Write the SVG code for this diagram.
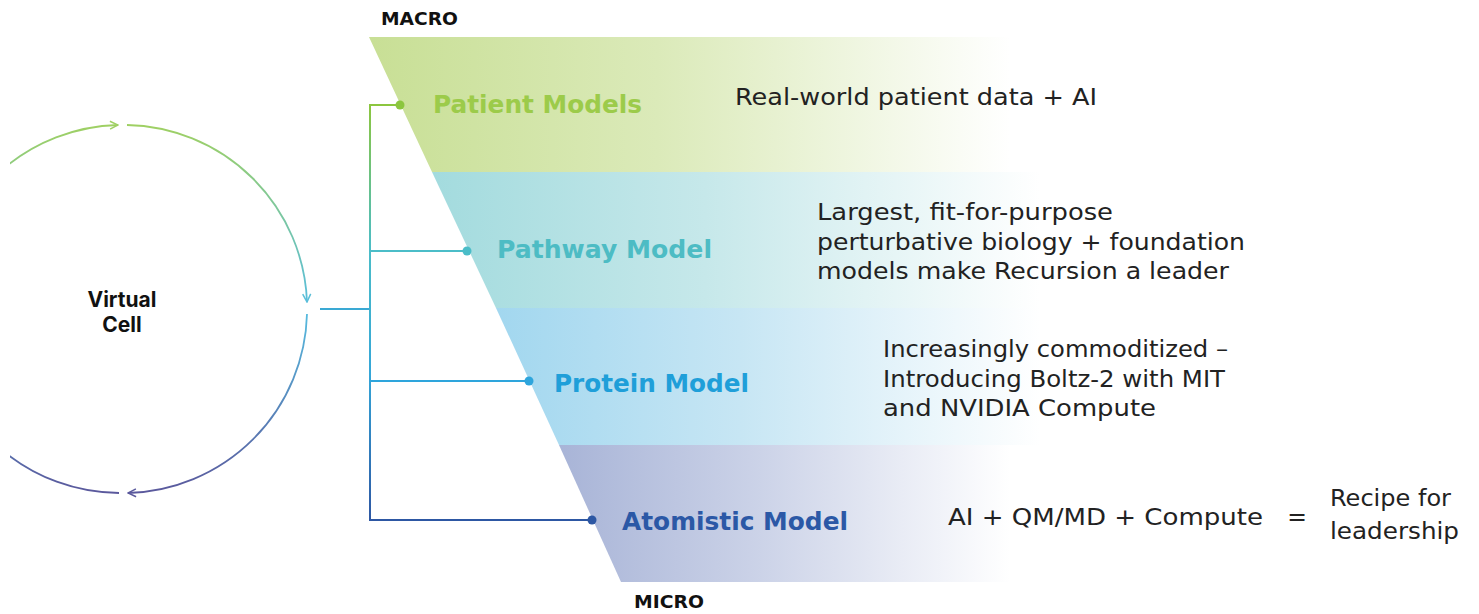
<svg xmlns="http://www.w3.org/2000/svg" width="1479" height="614" viewBox="0 0 1479 614">
<style>
.lbl{font-family:"DejaVu Sans","Verdana",sans-serif;font-weight:bold;font-size:24.5px}
.desc{font-family:"DejaVu Sans","Verdana",sans-serif;font-size:23.5px;fill:#222}
.scale{font-family:"DejaVu Sans","Verdana",sans-serif;font-weight:bold;font-size:17px;fill:#111}
.cell{font-family:"Inter","Liberation Sans",sans-serif;font-weight:700;font-size:21px;fill:#111}
.ring{fill:none;stroke:url(#ringGrad);stroke-width:1.8}
.conn{fill:none;stroke-width:2}
</style>
<defs>
<linearGradient id="ringGrad" gradientUnits="userSpaceOnUse" x1="0" y1="125" x2="0" y2="493">
<stop offset="0" stop-color="#9fd063"/>
<stop offset="0.5" stop-color="#56bde0"/>
<stop offset="1" stop-color="#5a589c"/>
</linearGradient>
<linearGradient id="busGrad" gradientUnits="userSpaceOnUse" x1="0" y1="105" x2="0" y2="520">
<stop offset="0" stop-color="#8cc63f"/>
<stop offset="0.35" stop-color="#4bbdc8"/>
<stop offset="0.65" stop-color="#35a6d8"/>
<stop offset="1" stop-color="#2d57a3"/>
</linearGradient>
<linearGradient id="gPatient" x1="0" y1="0" x2="1" y2="0">
<stop offset="0" stop-color="#c8df95"/>
<stop offset="0.45" stop-color="#dbeab9"/>
<stop offset="1" stop-color="#ffffff"/>
</linearGradient>
<linearGradient id="gPathway" x1="0" y1="0" x2="1" y2="0">
<stop offset="0" stop-color="#a3dbde"/>
<stop offset="0.45" stop-color="#c6e8ea"/>
<stop offset="1" stop-color="#ffffff"/>
</linearGradient>
<linearGradient id="gProtein" x1="0" y1="0" x2="1" y2="0">
<stop offset="0" stop-color="#a2d7ef"/>
<stop offset="0.45" stop-color="#c7e6f4"/>
<stop offset="1" stop-color="#ffffff"/>
</linearGradient>
<linearGradient id="gAtom" x1="0" y1="0" x2="1" y2="0">
<stop offset="0" stop-color="#a8b4d7"/>
<stop offset="0.45" stop-color="#ccd3e8"/>
<stop offset="1" stop-color="#ffffff"/>
</linearGradient>
<marker id="chev" viewBox="0 0 10 10" refX="9" refY="5" markerWidth="10" markerHeight="10" markerUnits="userSpaceOnUse" orient="auto">
<path d="M1,1 L9,5 L1,9" fill="none" stroke="context-stroke" stroke-width="1.5"/>
</marker>
<clipPath id="leftClip"><rect x="10" y="0" width="400" height="614"/></clipPath>
</defs>

<g id="bands">
<g id="band-patient"><polygon points="369,37 1010,37 1010,172 432,172" fill="url(#gPatient)"/></g>
<g id="band-pathway"><polygon points="432,172 1040,172 1040,308 496,308" fill="url(#gPathway)"/></g>
<g id="band-protein"><polygon points="496,308 1040,308 1040,445 559,445" fill="url(#gProtein)"/></g>
<g id="band-atomistic"><polygon points="559,445 1010,445 1010,582 621,582" fill="url(#gAtom)"/></g>
</g>

<g id="virtual-cell">
<g clip-path="url(#leftClip)">
<path class="ring" d="M 2,170 A 184 184 0 0 1 118,125" marker-end="url(#chev)"/>
<path class="ring" d="M 127,125 A 184 184 0 0 1 307,302" marker-end="url(#chev)"/>
<path class="ring" d="M 307,314 A 184 184 0 0 1 128,493" marker-end="url(#chev)"/>
<path class="ring" d="M 119,493 A 184 184 0 0 1 2,450"/>
</g>
<text class="cell" x="122" y="307" text-anchor="middle">Virtual</text>
<text class="cell" x="122" y="332" text-anchor="middle">Cell</text>
</g>

<g id="connectors">
<line class="conn" x1="320" y1="309" x2="370" y2="309" stroke="#3aa9d4"/>
<path class="conn" d="M 400,105 H 370 V 520 H 592" stroke="url(#busGrad)"/>
<line class="conn" x1="370" y1="105" x2="400" y2="105" stroke="#8cc63f"/>
<line class="conn" x1="370" y1="251" x2="467" y2="251" stroke="#4bbdc8"/>
<line class="conn" x1="370" y1="381" x2="529" y2="381" stroke="#2ea5dc"/>
<line class="conn" x1="370" y1="520" x2="592" y2="520" stroke="#2d57a3"/>
<circle cx="400" cy="105" r="4.5" fill="#8cc63f"/>
<circle cx="467" cy="251" r="4.5" fill="#4bbdc8"/>
<circle cx="529" cy="381" r="4.5" fill="#2ea5dc"/>
<circle cx="592" cy="520" r="4.5" fill="#2d57a3"/>
</g>

<g id="patient-models">
<text class="lbl" x="433" y="113" fill="#9ccb4a" textLength="209" lengthAdjust="spacingAndGlyphs">Patient Models</text>
<text class="desc" x="735" y="105" textLength="362" lengthAdjust="spacingAndGlyphs">Real-world patient data + AI</text>
</g>
<g id="pathway-model">
<text class="lbl" x="497" y="258" fill="#4dbcc4" textLength="215" lengthAdjust="spacingAndGlyphs">Pathway Model</text>
<text class="desc" x="817" y="220" textLength="296" lengthAdjust="spacingAndGlyphs">Largest, fit-for-purpose</text>
<text class="desc" x="817" y="250" textLength="428" lengthAdjust="spacingAndGlyphs">perturbative biology + foundation</text>
<text class="desc" x="817" y="279" textLength="412" lengthAdjust="spacingAndGlyphs">models make Recursion a leader</text>
</g>
<g id="protein-model">
<text class="lbl" x="554" y="392" fill="#1f9fd9" textLength="195" lengthAdjust="spacingAndGlyphs">Protein Model</text>
<text class="desc" x="883" y="357" textLength="345" lengthAdjust="spacingAndGlyphs">Increasingly commoditized –</text>
<text class="desc" x="883" y="387" textLength="342" lengthAdjust="spacingAndGlyphs">Introducing Boltz-2 with MIT</text>
<text class="desc" x="883" y="416" textLength="273" lengthAdjust="spacingAndGlyphs">and NVIDIA Compute</text>
</g>
<g id="atomistic-model">
<text class="lbl" x="622" y="530" fill="#2b58a6" textLength="226" lengthAdjust="spacingAndGlyphs">Atomistic Model</text>
<text class="desc" x="948" y="525" textLength="315" lengthAdjust="spacingAndGlyphs">AI + QM/MD + Compute</text>
<text class="desc" x="1297" y="525" text-anchor="middle">=</text>
<text class="desc" x="1330" y="506" textLength="121" lengthAdjust="spacingAndGlyphs">Recipe for</text>
<text class="desc" x="1330" y="539" textLength="129" lengthAdjust="spacingAndGlyphs">leadership</text>
</g>
<text class="scale" x="381" y="25" textLength="77" lengthAdjust="spacingAndGlyphs">MACRO</text>
<text class="scale" x="634" y="608" textLength="70" lengthAdjust="spacingAndGlyphs">MICRO</text>
</svg>
